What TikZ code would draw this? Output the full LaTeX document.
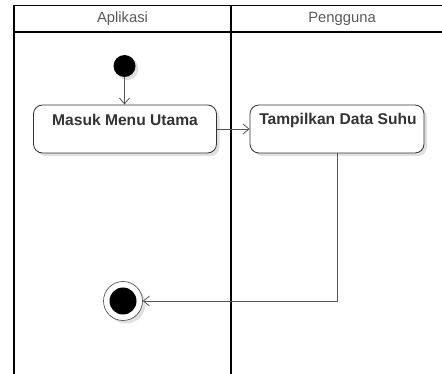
\documentclass[tikz,border=0pt]{standalone}
\usepackage{fontspec}
\setmainfont{Liberation Sans}
\usetikzlibrary{arrows.meta,shadows}
\definecolor{lanetext}{HTML}{595959}
\definecolor{boxtext}{HTML}{333333}
\definecolor{edgegray}{HTML}{555555}
\tikzset{
  lane/.style={draw=black, line width=1.6pt},
  lanetitle/.style={text=lanetext, font=\fontsize{14.8}{16}\selectfont, inner sep=0pt},
  soft/.style={drop shadow={shadow xshift=3pt, shadow yshift=-3pt, opacity=0.12, fill=black}},
  action/.style={draw=boxtext, line width=0.8pt, rounded corners=9pt, fill=white,
    minimum width=#1, minimum height=48pt, inner sep=0pt, soft},
  boxlabel/.style={text=boxtext, font=\bfseries\fontsize{15.6}{17}\selectfont, inner sep=0pt},
  flow/.style={draw=edgegray, line width=0.8pt, -{Straight Barb[length=6pt,width=10pt]}},
}
\begin{document}
\begin{tikzpicture}[x=1pt, y=-1pt]
  \useasboundingbox (0,0) rectangle (442,374);
  % swimlane frame
  \begin{scope}
    \clip (0,0) rectangle (442,374);
    \draw[lane] (14,380) -- (14,5.5) -- (460,5.5);
    \draw[lane] (14,32) -- (460,32);
    \draw[lane] (231,5.5) -- (231,380);
  \end{scope}
  \node[lanetitle] (laneA) at (122.5,19) {Aplikasi};
  \node[lanetitle] (laneB) at (342,19) {Pengguna};

  % start and final states
  \node[circle, fill=black, minimum size=22pt, inner sep=0pt, soft] (start) at (124.5,66) {};
  \node[circle, draw=edgegray, line width=0.7pt, fill=white, minimum size=39pt, inner sep=0pt, soft] (final) at (123,301) {};
  \node[circle, fill=black, minimum size=27pt, inner sep=0pt] (finaldot) at (final.center) {};

  % actions
  \node[action=183pt] (masuk) at (125,129) {};
  \node[boxlabel] (masukText) at (125,120) {Masuk Menu Utama};
  \node[action=174pt] (tampil) at (337,129) {};
  \node[boxlabel] (tampilText) at (338,120) {Tampilkan Data Suhu};

  % transitions
  \draw[flow] (start) -- (masuk.north -| start);
  \draw[flow] (masuk) -- (tampil);
  \draw[flow] (tampil.south) |- (final);
\end{tikzpicture}
\end{document}
